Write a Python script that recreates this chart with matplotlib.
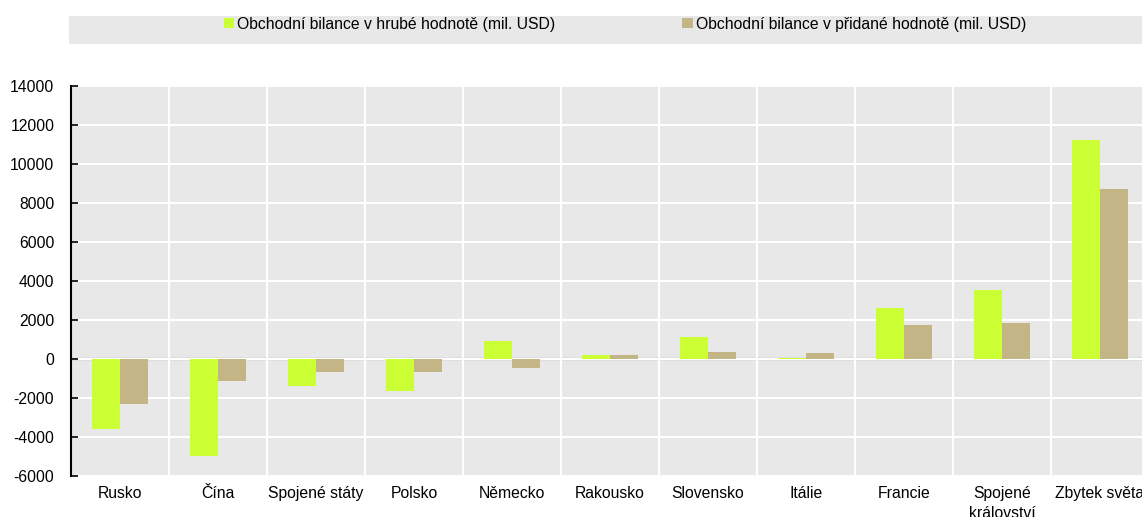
import numpy as np
import matplotlib
matplotlib.use("Agg")
from matplotlib import pyplot as plt
from matplotlib.patches import Rectangle, Patch

plt.rcParams['font.family'] = ['Liberation Sans', 'DejaVu Sans']
plt.rcParams['axes.unicode_minus'] = False

# data
countries = ["Rusko", "Čína", "Spojené státy", "Polsko", "Německo", "Rakousko",
             "Slovensko", "Itálie", "Francie", "Spojené\nkrálovství", "Zbytek světa"]
gross_balance = [-3600, -4970, -1380, -1650, 920, 190, 1110, 60, 2630, 3560, 11240]
value_added_balance = [-2330, -1150, -650, -650, -460, 190, 340, 310, 1760, 1830, 8740]
series_names = ["Obchodní bilance v hrubé hodnotě (mil. USD)",
                "Obchodní bilance v přidané hodnotě (mil. USD)"]

green = "#ccff33"
tan = "#c4b587"
bg = "#e8e8e8"
fs = 11.3

W, H = 1142, 517
fig = plt.figure(figsize=(W / 100, H / 100), dpi=100)

# axes placed in pixel coordinates (the last category is cut by the right edge)
left, right, top, bottom = 71, 1149, 86, 476
ax = fig.add_axes([left / W, (H - bottom) / H, (right - left) / W, (bottom - top) / H])
ax.set_facecolor(bg)

x = np.arange(len(countries))
w = 0.286
ax.bar(x - w / 2, gross_balance, width=w, color=green, zorder=3)
ax.bar(x + w / 2, value_added_balance, width=w, color=tan, zorder=3)

ax.set_xlim(-0.5, len(countries) - 0.5)
ax.set_ylim(-6000, 14000)
ax.set_yticks(np.arange(-6000, 14001, 2000))
ax.set_xticks(x)
ax.set_xticklabels(countries, fontsize=fs, va="top", linespacing=1.45)
ax.set_xticks(np.arange(-0.5, len(countries)), minor=True)

ax.grid(True, which="major", axis="y", color="white", linewidth=1.5, zorder=0)
ax.grid(True, which="minor", axis="x", color="white", linewidth=1.5, zorder=0)
ax.set_axisbelow(True)

for s in ["top", "right", "bottom"]:
    ax.spines[s].set_visible(False)
ax.spines["left"].set_linewidth(1.5)
ax.tick_params(axis="y", direction="in", length=5, width=1.2, labelsize=fs, pad=12)
ax.tick_params(axis="x", which="both", length=0, pad=7)

# zero line with small boundary ticks
zero = ax.secondary_xaxis(6000 / 20000)
zero.set_xticks(np.arange(-0.5, len(countries)))
zero.tick_params(direction="in", length=4, width=1.2, labelbottom=False)
zero.spines["bottom"].set_linewidth(1.5)

# legend band
fig.patches.append(Rectangle((69 / W, (H - 44) / H), 1 - 69 / W, 28 / H,
                             transform=fig.transFigure, facecolor=bg,
                             edgecolor="none", zorder=0))
handles = [Patch(facecolor=green), Patch(facecolor=tan)]
fig.legend(handles, series_names, loc="center left", ncol=2, frameon=False,
           bbox_to_anchor=(216 / W, (H - 24) / H), fontsize=fs,
           handlelength=0.65, handleheight=0.65, handletextpad=0.2,
           columnspacing=8.1, borderpad=0)

fig.savefig("out.png", dpi=100)
